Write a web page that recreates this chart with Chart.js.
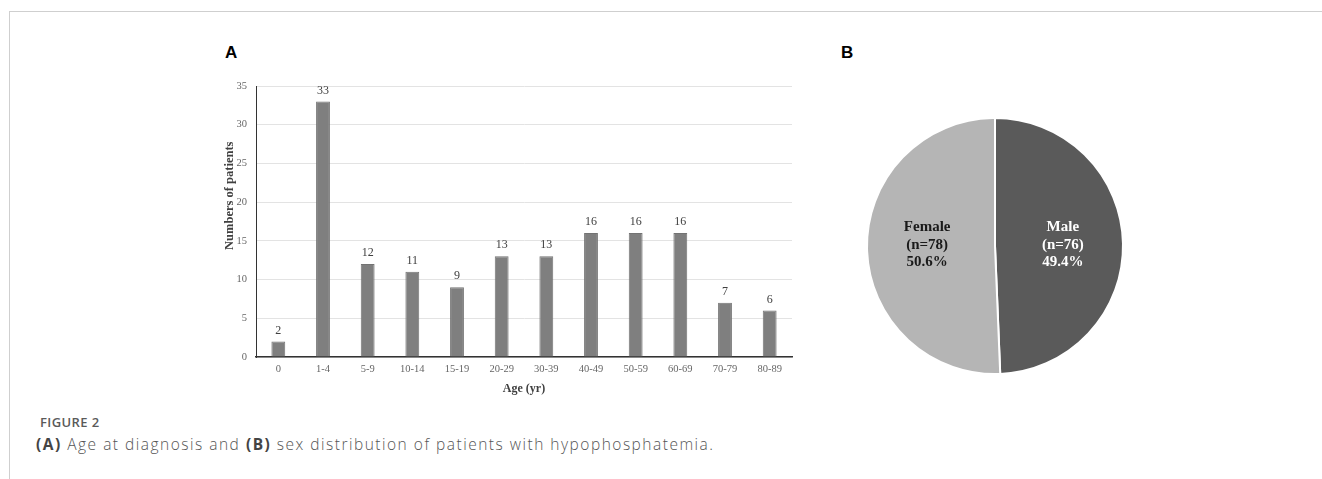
<!DOCTYPE html>
<html>
<head>
<meta charset="utf-8">
<script src="https://cdn.jsdelivr.net/npm/chart.js@4"></script>
<style>
  body { margin: 0; background: #fff; width: 1322px; height: 479px; overflow: hidden; position: relative; }
  .frame { position: absolute; left: 9px; top: 11px; right: 0; bottom: 0; border-left: 1px solid #cfcfcf; border-top: 1px solid #cfcfcf; }
  .panel { position: absolute; font: bold 17px "Liberation Sans", Arial, sans-serif; color: #000; }
  .cap1 { position: absolute; left: 40px; top: 413px; font: 600 13px "Open Sans", sans-serif; color: #5a5a5a; letter-spacing: 0.4px; }
  .cap2 { position: absolute; left: 36px; top: 433px; font: 300 15.5px "Open Sans", sans-serif; color: #555; letter-spacing: 1.5px; white-space: nowrap; }
  .cap2 b { font-weight: 700; color: #444; }
  #bar { position: absolute; left: 180px; top: 70px; }
  #pie { position: absolute; left: 860px; top: 111px; }
</style>
</head>
<body>
<div class="frame"></div>
<div class="panel" style="left:225px;top:43px">A</div>
<div class="panel" style="left:841px;top:43px">B</div>
<canvas id="bar" width="630" height="330"></canvas>
<canvas id="pie" width="270" height="270"></canvas>
<div class="cap1">FIGURE 2</div>
<div class="cap2"><b>(A)</b> Age at diagnosis and <b>(B)</b> sex distribution of patients with hypophosphatemia.</div>
<script>
const ageGroups = ['0', '1-4', '5-9', '10-14', '15-19', '20-29', '30-39', '40-49', '50-59', '60-69', '70-79', '80-89'];
const patientCounts = [2, 33, 12, 11, 9, 13, 13, 16, 16, 16, 7, 6];
const sexLabels = ['Male', 'Female'];
const sexCounts = [76, 78];
const sexPercents = ['49.4%', '50.6%'];

const serif = '"Liberation Serif", "Times New Roman", serif';

// value labels above bars + the y title (sits a bit above centre in the original)
const barExtras = {
  id: 'barExtras',
  afterDatasetsDraw(chart) {
    const ctx = chart.ctx;
    const meta = chart.getDatasetMeta(0);
    ctx.save();
    ctx.font = '12px ' + serif;
    ctx.fillStyle = '#404040';
    ctx.textAlign = 'center';
    ctx.textBaseline = 'bottom';
    meta.data.forEach((bar, i) => {
      ctx.fillText(patientCounts[i], bar.x, bar.y - 5);
    });
    const area = chart.chartArea;
    ctx.translate(area.left - 26, area.top + (area.bottom - area.top) * 0.405);
    ctx.rotate(-Math.PI / 2);
    ctx.font = 'bold 12.5px ' + serif;
    ctx.textBaseline = 'middle';
    ctx.fillText('Numbers of patients', 0, 0);
    ctx.restore();
  }
};

new Chart(document.getElementById('bar'), {
  type: 'bar',
  data: {
    labels: ageGroups,
    datasets: [{
      data: patientCounts,
      backgroundColor: '#7f7f7f',
      borderColor: '#737373',
      borderWidth: 1,
      categoryPercentage: 1,
      barPercentage: 0.31
    }]
  },
  options: {
    responsive: false,
    animation: false,
    layout: { padding: { left: 40, top: 16, right: 18, bottom: 0 } },
    plugins: { legend: { display: false }, tooltip: { enabled: false } },
    scales: {
      y: {
        min: 0, max: 35,
        ticks: { stepSize: 5, padding: 9, color: '#666', font: { family: serif, size: 10.5 } },
        grid: { color: '#e3e3e3', drawTicks: false },
        border: { color: '#333', width: 1 },
        afterFit(s) { s.width = 36; }
      },
      x: {
        ticks: { padding: 6, color: '#666', font: { family: serif, size: 10.5 } },
        grid: { display: false, drawTicks: false },
        border: { color: '#333', width: 1.5 },
        title: { display: true, text: 'Age (yr)', color: '#404040', font: { family: serif, size: 12, weight: 'bold' }, padding: { top: 0 } },
        afterFit(s) { s.height = 43; }
      }
    }
  },
  plugins: [barExtras]
});

// text inside pie slices
const pieText = {
  id: 'pieText',
  afterDatasetsDraw(chart) {
    const ctx = chart.ctx;
    const meta = chart.getDatasetMeta(0);
    ctx.save();
    ctx.font = 'bold 15px ' + serif;
    ctx.textAlign = 'center';
    ctx.textBaseline = 'middle';
    meta.data.forEach((arc, i) => {
      const mid = (arc.startAngle + arc.endAngle) / 2;
      const x = arc.x + Math.cos(mid) * arc.outerRadius * 0.53;
      const y = arc.y - 1;
      ctx.fillStyle = i === 0 ? '#ffffff' : '#1a1a1a';
      const lines = [sexLabels[i], '(n=' + sexCounts[i] + ')', sexPercents[i]];
      lines.forEach((t, k) => ctx.fillText(t, x, y + (k - 1) * 17.5));
    });
    ctx.restore();
  }
};

new Chart(document.getElementById('pie'), {
  type: 'pie',
  data: {
    labels: sexLabels,
    datasets: [{
      data: sexCounts,
      backgroundColor: ['#5a5a5a', '#b5b5b5'],
      borderColor: '#ffffff',
      borderWidth: 2
    }]
  },
  options: {
    responsive: false,
    animation: false,
    layout: { padding: 6 },
    plugins: { legend: { display: false }, tooltip: { enabled: false } }
  },
  plugins: [pieText]
});
</script>
</body>
</html>
